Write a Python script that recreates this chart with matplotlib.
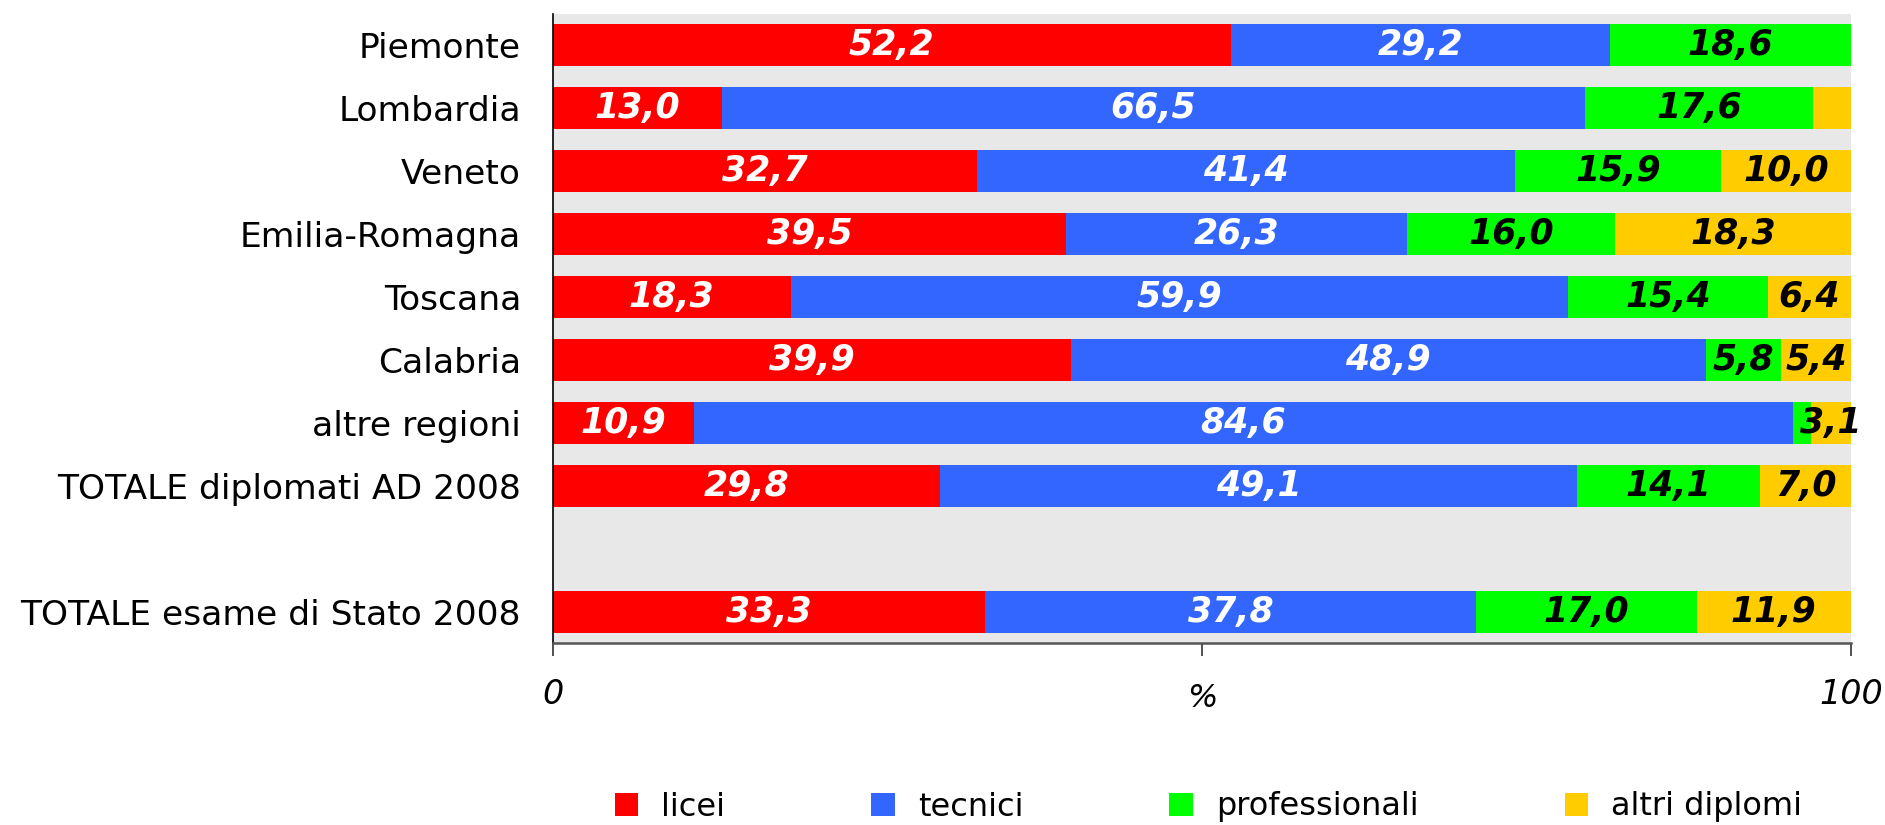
import matplotlib
matplotlib.use("Agg")
import matplotlib.pyplot as plt

regions = ["Piemonte", "Lombardia", "Veneto", "Emilia-Romagna", "Toscana",
           "Calabria", "altre regioni", "TOTALE diplomati AD 2008",
           "TOTALE esame di Stato 2008"]
licei = [52.2, 13.0, 32.7, 39.5, 18.3, 39.9, 10.9, 29.8, 33.3]
tecnici = [29.2, 66.5, 41.4, 26.3, 59.9, 48.9, 84.6, 49.1, 37.8]
professionali = [18.6, 17.6, 15.9, 16.0, 15.4, 5.8, 1.4, 14.1, 17.0]
altri = [0.0, 2.9, 10.0, 18.3, 6.4, 5.4, 3.1, 7.0, 11.9]

series = [("licei", licei, "#FF0000", "white"),
          ("tecnici", tecnici, "#3366FF", "white"),
          ("professionali", professionali, "#00FF00", "black"),
          ("altri diplomi", altri, "#FFCC00", "black")]


def fmt(v: float) -> str:
    '''Italian decimal comma.'''
    return f"{v:.1f}".replace(".", ",")


def main():
    fig = plt.figure(figsize=(18.85, 8.25), dpi=100)
    ax = fig.add_axes([553 / 1885, 182 / 825, 1298 / 1885, 629 / 825])
    ax.set_facecolor("#E8E8E8")

    # blank row between the regional totals and the national one
    ypos = list(range(len(regions) - 1)) + [len(regions)]

    left = [0.0] * len(regions)
    for name, vals, color, tcolor in series:
        ax.barh(ypos, vals, left=left, height=0.667, color=color,
                label=name, zorder=2)
        for y, l, v in zip(ypos, left, vals):
            if v >= 3:
                ax.text(l + v / 2, y, fmt(v), ha="center", va="center",
                        color=tcolor, fontsize=25, fontweight="bold",
                        fontstyle="italic", zorder=3)
        left = [a + b for a, b in zip(left, vals)]

    ax.set_xlim(0, 100)
    ax.set_ylim(len(regions) + 0.5, -0.5)
    ax.set_yticks(ypos)
    ax.set_yticklabels(regions, fontsize=24.8)
    ax.tick_params(axis="y", length=0, pad=23)

    ax.set_xticks([0, 50, 100])
    ax.set_xticklabels(["0", "", "100"], fontsize=24, fontstyle="italic")
    ax.tick_params(axis="x", length=9, width=1.2, direction="out",
                   color="#333333", pad=16)
    ax.set_xlabel("%", fontsize=23, fontstyle="italic", labelpad=-20)

    for s in ["top", "right"]:
        ax.spines[s].set_visible(False)
    ax.spines["left"].set_color("black")
    ax.spines["left"].set_linewidth(1.2)
    ax.spines["bottom"].set_color("#555555")
    ax.spines["bottom"].set_linewidth(1.8)

    fig.legend(loc="center", bbox_to_anchor=(1208.5 / 1885, 18 / 825),
               ncol=4, frameon=False, fontsize=23, handlelength=0.75,
               handleheight=0.75, handletextpad=0.72, columnspacing=4.56,
               borderpad=0.0)

    fig.savefig("out.png", dpi=100)
    plt.close("all")


if __name__ == "__main__":
    main()
